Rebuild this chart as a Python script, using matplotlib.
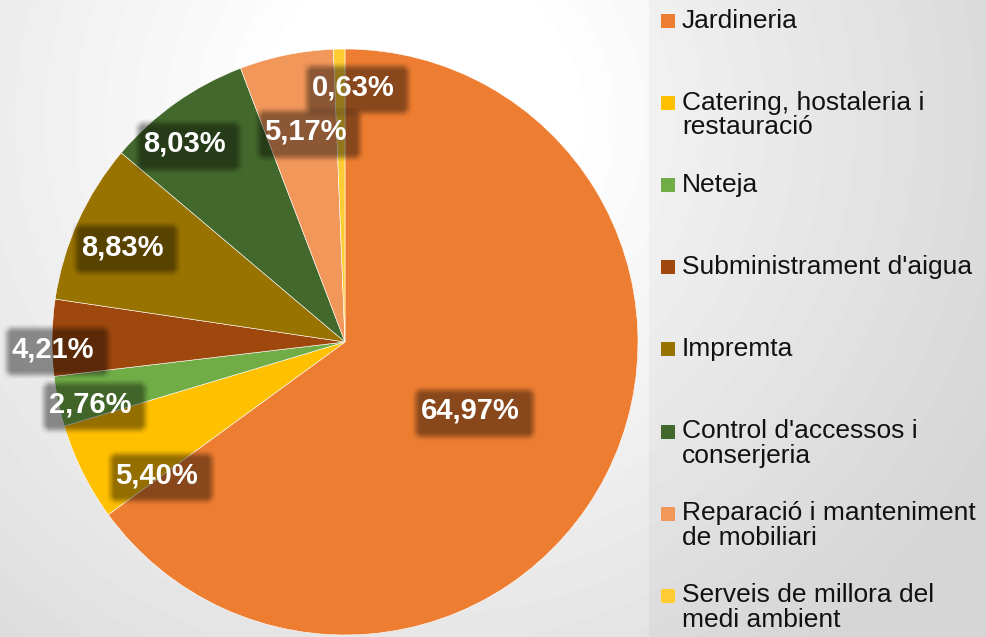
import numpy as np
import matplotlib
matplotlib.use('Agg')
import matplotlib.pyplot as plt
from matplotlib.patches import Rectangle

plt.rcParams['font.family'] = ['Liberation Sans', 'DejaVu Sans']

# data
categories = ['Jardineria', 'Catering, hostaleria i\nrestauració', 'Neteja',
              "Subministrament d'aigua", 'Impremta',
              "Control d'accessos i\nconserjeria",
              'Reparació i manteniment\nde mobiliari',
              'Serveis de millora del\nmedi ambient']
shares = [64.97, 5.40, 2.76, 4.21, 8.83, 8.03, 5.17, 0.63]
colors = ['#ED7D31', '#FFC000', '#70AD47', '#9E480E', '#997300',
          '#43682B', '#F1975A', '#FFCD33']

# label spots (pie units, radius=1) roughly where excel put them
label_pos = [(0.427, -0.235), (-0.642, -0.454), (-0.870, -0.212),
             (-0.997, -0.024), (-0.761, 0.324), (-0.549, 0.676),
             (-0.137, 0.717), (0.027, 0.870)]

W, H = 987, 637
fig = plt.figure(figsize=(W / 100, H / 100), dpi=100)

# background: soft radial gradient
bg = fig.add_axes([0, 0, 1, 1])
yy, xx = np.mgrid[0:H, 0:W]
d = np.hypot(xx - 420, yy - 120)
v = 1 - 0.13 * np.clip((d - 150) / 500, 0, 1)
bg.imshow(v, cmap='gray', vmin=0, vmax=1, aspect='auto', extent=[0, W, H, 0])
bg.add_patch(Rectangle((649, 0), W - 649, H, color='black', alpha=0.03, lw=0))
bg.set_xlim(0, W)
bg.set_ylim(H, 0)
bg.axis('off')

# pie
cx, cy, r = 345, 342, 293
ax = fig.add_axes([(cx - r) / W, (H - cy - r) / H, 2 * r / W, 2 * r / H])
ax.pie(shares, colors=colors, startangle=90, counterclock=False, radius=1,
       wedgeprops=dict(edgecolor='white', linewidth=0.4))
ax.set_xlim(-1, 1)
ax.set_ylim(-1, 1)
ax.set_aspect('auto')

labels = []
for val, (lx, ly) in zip(shares, label_pos):
    s = ('%.2f%%' % val).replace('.', ',')
    t = ax.text(lx, ly, s, ha='center', va='center', fontsize=21,
                fontweight='bold', color='white', zorder=5)
    labels.append(t)

fig.canvas.draw()
ren = fig.canvas.get_renderer()


def soft_box(x0, x1, y0, y1, fade=5):
    # black box with blurred edges, pixel coords (y up)
    gx0, gx1 = int(x0 - 3 * fade), int(x1 + 3 * fade)
    gy0, gy1 = int(y0 - 3 * fade), int(y1 + 3 * fade)
    X, Y = np.meshgrid(np.arange(gx0, gx1) + 0.5, np.arange(gy0, gy1) + 0.5)
    ax_ = np.clip((np.minimum(X - x0, x1 - X) + fade) / (2 * fade), 0, 1)
    ay_ = np.clip((np.minimum(Y - y0, y1 - Y) + fade) / (2 * fade), 0, 1)
    a = ax_ * ay_
    a = a * a * (3 - 2 * a)
    img = np.zeros(a.shape + (4,))
    img[..., 3] = a * 0.42
    return img[::-1], (gx0, gx1, gy0, gy1)


for t in labels:
    bb = t.get_window_extent(ren)
    img, (gx0, gx1, gy0, gy1) = soft_box(bb.x0 - 5, bb.x1 + 14,
                                         bb.y0 - 12, bb.y1 + 7)
    inv = ax.transData.inverted()
    (dx0, dy0), (dx1, dy1) = inv.transform([(gx0, gy0), (gx1, gy1)])
    ax.imshow(img, extent=[dx0, dx1, dy0, dy1], zorder=4, aspect='auto',
              interpolation='bilinear', clip_on=False)
ax.set_xlim(-1, 1)
ax.set_ylim(-1, 1)
ax.axis('off')

# legend, drawn by hand
top = 21
step = 82.1
for i, (lab, c) in enumerate(zip(categories, colors)):
    y = top + i * step
    bg.add_patch(Rectangle((661, y - 7), 14, 14, color=c, lw=0))
    bg.text(682, y - 12.5, lab, ha='left', va='top', fontsize=19,
            color='#111111', linespacing=1.03)

fig.savefig('out.png', dpi=100)
